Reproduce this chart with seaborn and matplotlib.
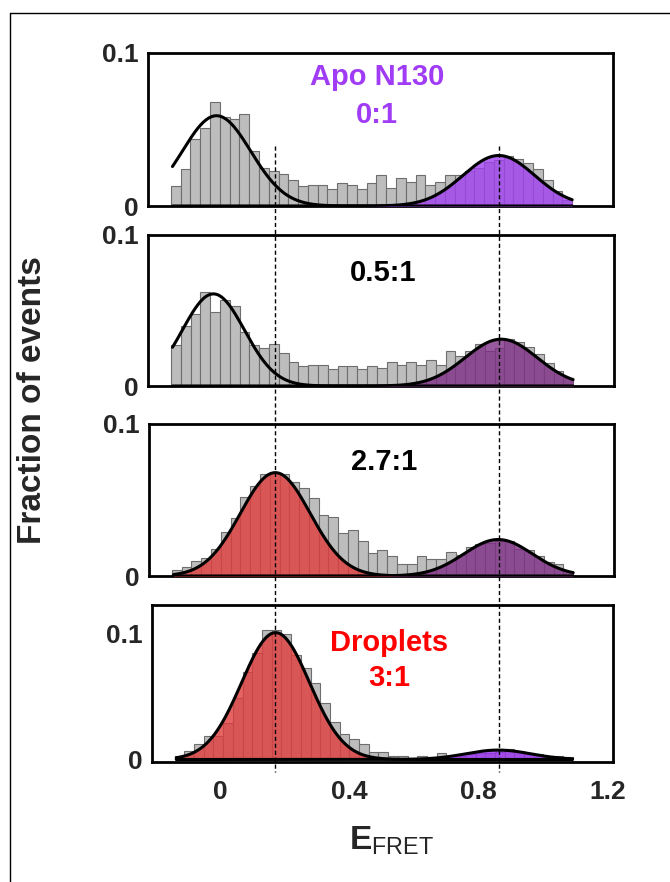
import numpy as np
import pandas as pd
import seaborn as sns
import matplotlib.pyplot as plt
import matplotlib.transforms as mtransforms
from matplotlib.lines import Line2D

# histogram bins (E_FRET)
bin_lo = -0.14
bin_w = 0.03
n_bins = 41

# fraction of events per bin, one list per titration point
hist_apo = [0.013, 0.024, 0.044, 0.051, 0.068, 0.058, 0.057, 0.060, 0.036, 0.025,
            0.023, 0.021, 0.017, 0.013, 0.014, 0.014, 0.011, 0.015, 0.014, 0.011,
            0.015, 0.020, 0.012, 0.018, 0.016, 0.020, 0.014, 0.016, 0.020, 0.020,
            0.023, 0.025, 0.029, 0.030, 0.033, 0.031, 0.028, 0.024, 0.017, 0.010,
            0.004]
hist_05 = [0.027, 0.040, 0.048, 0.062, 0.049, 0.057, 0.053, 0.036, 0.027, 0.025,
           0.028, 0.022, 0.016, 0.013, 0.014, 0.014, 0.011, 0.013, 0.013, 0.011,
           0.013, 0.012, 0.016, 0.014, 0.016, 0.014, 0.017, 0.014, 0.023, 0.020,
           0.023, 0.028, 0.023, 0.025, 0.031, 0.029, 0.026, 0.021, 0.015, 0.010,
           0.005]
hist_27 = [0.004, 0.006, 0.010, 0.012, 0.018, 0.029, 0.038, 0.052, 0.059, 0.067,
           0.068, 0.067, 0.062, 0.058, 0.051, 0.040, 0.039, 0.028, 0.030, 0.023,
           0.015, 0.017, 0.013, 0.008, 0.008, 0.013, 0.011, 0.011, 0.016, 0.014,
           0.019, 0.021, 0.022, 0.023, 0.023, 0.018, 0.017, 0.013, 0.009, 0.008,
           0.003]
hist_drop = [0.003, 0.007, 0.012, 0.019, 0.019, 0.029, 0.049, 0.070, 0.085, 0.103,
             0.103, 0.100, 0.083, 0.073, 0.061, 0.045, 0.030, 0.020, 0.016, 0.012,
             0.006, 0.006, 0.003, 0.003, 0.001, 0.003, 0.002, 0.005, 0.003, 0.003,
             0.004, 0.005, 0.005, 0.006, 0.008, 0.007, 0.005, 0.004, 0.003, 0.003,
             0.002]

# gaussian fits: amplitude, centre, width
low_amp = [0.059, 0.061, 0.068, 0.101]
low_mu = [0.0, -0.01, 0.177, 0.172]
low_sd = [0.105, 0.095, 0.107, 0.105]
high_amp = [0.033, 0.031, 0.024, 0.0075]
high_mu = [0.865, 0.87, 0.86, 0.86]
high_sd = [0.11, 0.11, 0.105, 0.10]

titles = [["Apo N130", "0:1"], ["0.5:1"], ["2.7:1"], ["Droplets", "3:1"]]
title_colors = ["#a03cf5", "black", "black", "#ff0000"]
low_fill = [None, None, "#e03c3c", "#e03c3c"]
high_fill = ["#a040f0", "#7f2f86", "#7f2f86", "#9a30f0"]

dash_x = [0.18, 0.866]

sns.set_style("white")
plt.rcParams["font.family"] = ["Liberation Sans", "DejaVu Sans"]
plt.rcParams["mathtext.fontset"] = "custom"
plt.rcParams["mathtext.rm"] = "Liberation Sans"
plt.rcParams["mathtext.bf"] = "Liberation Sans:bold"

W, H = 670, 882
fig = plt.figure(figsize=(W / 100, H / 100), dpi=100)

# panel boxes in pixels: left, top, right, bottom
boxes = [(148, 53, 613, 206), (148, 235, 614, 386), (149, 424, 614, 576), (152, 605, 613, 762)]
all_hist = [hist_apo, hist_05, hist_27, hist_drop]
bin_hi = bin_lo + bin_w * n_bins
centers = bin_lo + bin_w * (np.arange(n_bins) + 0.5)
xfit = np.linspace(bin_lo + 0.005, bin_hi, 300)

axes = []
for i, (l, t, r, b) in enumerate(boxes):
    ax = fig.add_axes([l / W, 1 - b / H, (r - l) / W, (b - t) / H])
    axes.append(ax)
    df = pd.DataFrame({"efret": centers, "frac": all_hist[i]})
    sns.histplot(data=df, x="efret", weights="frac", bins=n_bins,
                 binrange=(bin_lo, bin_hi), ax=ax,
                 color="#bdbdbd", edgecolor="#6e6e6e", linewidth=0.8, alpha=1)

    g_low = low_amp[i] * np.exp(-(xfit - low_mu[i]) ** 2 / (2 * low_sd[i] ** 2))
    g_high = high_amp[i] * np.exp(-(xfit - high_mu[i]) ** 2 / (2 * high_sd[i] ** 2))
    if low_fill[i]:
        ax.fill_between(xfit, 0, g_low, color=low_fill[i], alpha=0.8, lw=0, zorder=3)
    ax.fill_between(xfit, 0, g_high, color=high_fill[i], alpha=0.8, lw=0, zorder=3)
    sns.lineplot(x=xfit, y=g_low, ax=ax, color="black", lw=2.2, zorder=4)
    sns.lineplot(x=xfit, y=g_high, ax=ax, color="black", lw=2.2, zorder=4)

    ax.set_xlim(-0.21, 1.215)
    if i < 3:
        ax.set_ylim(0, 0.1)
    else:
        ax.set_ylim(-0.002, 0.123)
    ax.set_xlabel("")
    ax.set_ylabel("")

    ax.set_yticks([0, 0.1])
    ax.set_yticklabels(["0", "0.1"])
    if i == 2:
        ax.set_yticks([0.02, 0.04, 0.06, 0.08], minor=True)
    else:
        ax.set_yticks([0.05], minor=True)

    if i < 3:
        ax.set_xticks(np.arange(-0.2, 1.21, 0.2))
        ax.set_xticklabels([])
    else:
        ax.set_xticks([0, 0.4, 0.8, 1.2])
        ax.set_xticklabels(["0", "0.4", "0.8", "1.2"])
        ax.set_xticks([-0.2, 0.2, 0.6, 1.0], minor=True)

    ax.tick_params(axis="both", which="both", direction="out", length=5, width=1,
                   color="#8a8a8a", labelsize=19)
    ax.tick_params(axis="y", which="both", pad=2)
    ax.tick_params(axis="x", which="both", pad=8)
    if i == 3:
        ax.tick_params(axis="y", which="both", color="#7aa6d6")
    for lab in ax.get_xticklabels() + ax.get_yticklabels():
        lab.set_fontweight("bold")
    for sp in ax.spines.values():
        sp.set_visible(True)
        sp.set_color("black")
        sp.set_linewidth(2)

    lines = titles[i]
    if len(lines) == 2:
        ax.text(0.493, 0.84, lines[0], transform=ax.transAxes, ha="center", va="center",
                fontsize=21, fontweight="bold", color=title_colors[i])
        ax.text(0.493, 0.595, lines[1], transform=ax.transAxes,
                ha="center", va="center", fontsize=21, fontweight="bold",
                color=title_colors[i])
    else:
        ax.text(0.505, 0.75, lines[0], transform=ax.transAxes, ha="center", va="center",
                fontsize=21, fontweight="bold", color=title_colors[i])

# droplets title sits a little lower and to the right
axes[3].texts[0].set_position((0.515, 0.758))
axes[3].texts[1].set_position((0.515, 0.535))

# dashed guide lines running through all panels
trans = mtransforms.blended_transform_factory(axes[0].transData, fig.transFigure)
for xd in dash_x:
    fig.add_artist(Line2D([xd, xd], [1 - 146 / H, 1 - 772 / H], transform=trans,
                          color="black", lw=1, ls=(0, (3, 2)), zorder=5))

# outer frame (left and top edges visible)
fig.add_artist(Line2D([10 / W, 10 / W], [0, 1 - 13 / H], transform=fig.transFigure,
                      color="black", lw=1))
fig.add_artist(Line2D([10 / W, 1], [1 - 13 / H, 1 - 13 / H], transform=fig.transFigure,
                      color="black", lw=1))

fig.text(33 / W, 1 - 400 / H, "Fraction of events", rotation=90, ha="center",
         va="center", fontsize=24, fontweight="bold")
fig.text(392 / W, 1 - 841 / H, r"$\mathbf{E}_{\mathrm{FRET}}$", ha="center",
         va="center", fontsize=24)

fig.savefig("out.png", dpi=100)
